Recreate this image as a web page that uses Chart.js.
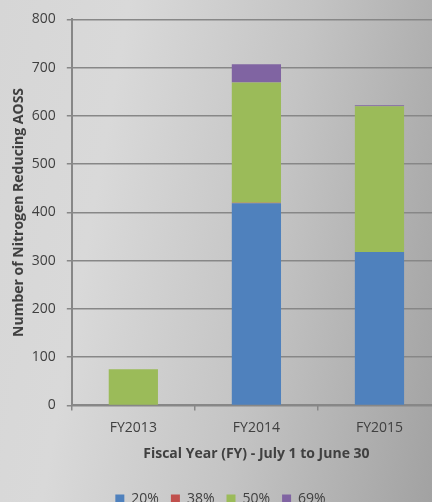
<!DOCTYPE html>
<html>
<head>
<meta charset="utf-8">
<script src="https://cdn.jsdelivr.net/npm/chart.js@4.4.1/dist/chart.umd.min.js"></script>
<style>
  html, body { margin: 0; padding: 0; width: 432px; height: 502px; overflow: hidden; }
  body { background: linear-gradient(100deg, #d6d6d6 0%, #d9d9d9 25%, #c4c4c4 60%, #a2a2a2 100%); }
  #wrap { position: absolute; left: 0; top: 0; width: 441px; height: 502px; }
</style>
</head>
<body>
<div id="wrap"><canvas id="c"></canvas></div>
<script>
const categories = ["FY2013", "FY2014", "FY2015"];
const seriesNames = ["20%", "38%", "50%", "69%"];
const s20 = [0, 419, 318];
const s38 = [0, 1, 0];
const s50 = [75, 249, 302];
const s69 = [0, 38, 2];
const yTicks = [0, 100, 200, 300, 400, 500, 600, 700, 800];

const colors = ["#4f81bd", "#c0504d", "#9bbb59", "#8064a2"];
const values = [s20, s38, s50, s69];
const FONT = "'Open Sans', sans-serif";

new Chart(document.getElementById("c"), {
  type: "bar",
  data: {
    labels: categories,
    datasets: seriesNames.map((n, i) => ({
      label: n,
      data: values[i],
      backgroundColor: colors[i],
      borderWidth: 0,
      categoryPercentage: 1,
      barPercentage: 0.4
    }))
  },
  options: {
    responsive: true,
    maintainAspectRatio: false,
    animation: false,
    layout: { padding: { top: 12, right: 0, left: 0, bottom: -14 } },
    plugins: {
      legend: {
        position: "bottom",
        labels: {
          boxWidth: 9, boxHeight: 9, padding: 12,
          color: "#404040",
          font: { family: FONT, size: 14 }
        }
      },
      tooltip: { enabled: false }
    },
    scales: {
      x: {
        stacked: true,
        grid: { display: true, drawOnChartArea: false, offset: true, color: "#878787", lineWidth: 1.5, tickLength: 5 },
        border: { color: "#878787", width: 2 },
        ticks: { color: "#404040", font: { family: FONT, size: 14 }, padding: 9 },
        title: { display: true, text: "Fiscal Year (FY) - July 1 to June 30", color: "#404040",
                 font: { family: FONT, size: 14, weight: "bold" }, padding: { top: 0, bottom: 18 } }
      },
      y: {
        stacked: true,
        min: 0, max: 800,
        afterBuildTicks: (ax) => { ax.ticks = yTicks.map(v => ({ value: v })); },
        grid: { color: "#878787", lineWidth: 1.5, tickLength: 5 },
        border: { color: "#878787", width: 2 },
        ticks: { color: "#404040", font: { family: FONT, size: 14 }, padding: 11 },
        title: { display: true, text: "Number of Nitrogen Reducing AOSS", color: "#404040",
                 font: { family: FONT, size: 14, weight: "bold" }, padding: { top: 11, bottom: -7 } }
      }
    }
  }
});
</script>
</body>
</html>
